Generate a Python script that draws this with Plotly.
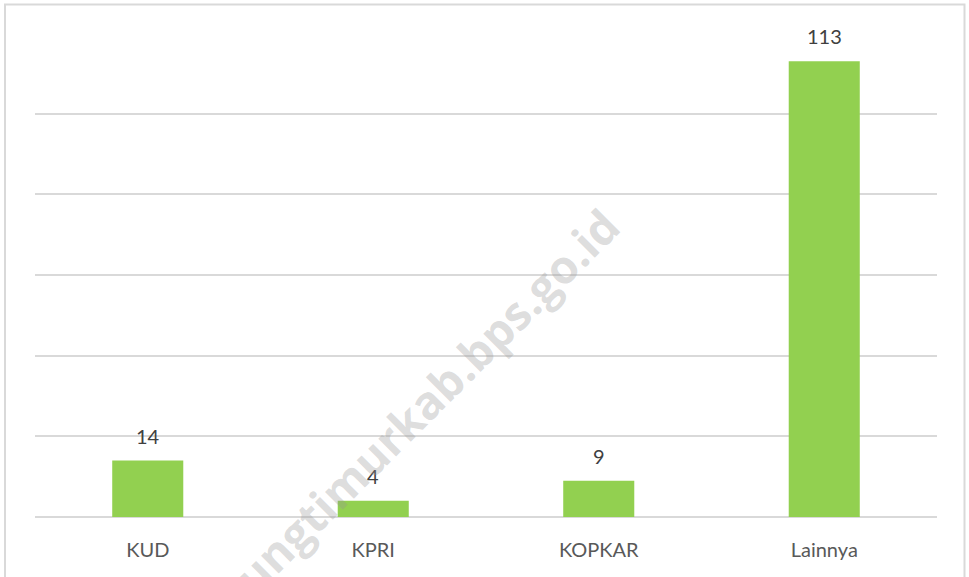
import plotly.graph_objects as go

# data
categories = ["KUD", "KPRI", "KOPKAR", "Lainnya"]
values = [14, 4, 9, 113]
y_ticks = [0, 20, 40, 60, 80, 100, 120]

W, H = 969, 577
ml, mr, mt, mb = 35, 32, 33, 60
pw, ph = W - ml - mr, H - mt - mb


def px_x(px):
    return (px - ml) / pw


def px_y(py):
    return (H - mb - py) / ph


fig = go.Figure()

fig.add_trace(go.Bar(
    x=categories, y=values,
    marker=dict(color="#92D050", line=dict(width=0)),
    hoverinfo="x+y",
    showlegend=False,
))

# data labels above bars
for c, v in zip(categories, values):
    fig.add_annotation(
        x=c, y=v, text=str(v), showarrow=False,
        yanchor="middle", yshift=25,
        font=dict(family="Lato, Open Sans, sans-serif", size=20, color="#404040"),
    )

# watermark (runs off the bottom edge, as in the source image)
fig.add_annotation(
    xref="paper", yref="paper", x=px_x(385), y=px_y(442),
    xanchor="center", yanchor="middle",
    text="<b>lampungtimurkab.bps.go.id</b>", showarrow=False,
    textangle=-45,
    font=dict(family="Open Sans, sans-serif", size=46, color="rgba(150,150,150,0.33)"),
)

# outer chart border
fig.add_shape(
    type="rect", xref="paper", yref="paper",
    x0=px_x(5), x1=px_x(964.5), y0=px_y(590), y1=px_y(4.5),
    line=dict(color="#d9d9d9", width=2), fillcolor="rgba(0,0,0,0)", layer="below",
)

fig.update_layout(
    width=W, height=H,
    margin=dict(l=ml, r=mr, t=mt, b=mb),
    paper_bgcolor="white", plot_bgcolor="white",
    bargap=0.685,
    font=dict(family="Lato, Open Sans, sans-serif", size=20, color="#595959"),
    xaxis=dict(
        showgrid=False, showline=False, ticks="",
        ticklabelstandoff=19,
        tickfont=dict(size=20, color="#595959"),
    ),
    yaxis=dict(
        range=[0, 120], tickvals=y_ticks, showticklabels=False,
        showgrid=True, gridcolor="#d9d9d9", gridwidth=1.5,
        zeroline=True, zerolinecolor="#d9d9d9", zerolinewidth=1.5,
        showline=False,
    ),
)

fig.write_html("out.html", config={"displayModeBar": False},
               post_script="document.body.style.margin='0';")
